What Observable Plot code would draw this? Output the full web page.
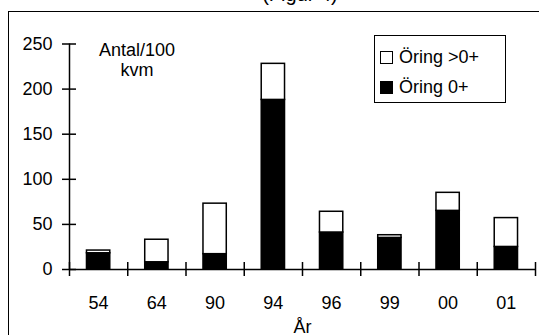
<!DOCTYPE html>
<html>
<head>
<meta charset="utf-8">
<script src="https://cdn.jsdelivr.net/npm/d3@7"></script>
<script src="https://cdn.jsdelivr.net/npm/@observablehq/plot@0.6"></script>
<style>
  html, body { margin: 0; padding: 0; background: #fff; overflow: hidden; }
  body { width: 539px; height: 335px; position: relative; font-family: "Liberation Sans", Arial, sans-serif; }
  #chart { position: absolute; left: 0; top: 0; }
  .border { position: absolute; left: 8px; top: 11px; width: 700px; height: 500px; border-left: 1.5px solid #000; border-top: 1.5px solid #000; }
  .title { position: absolute; left: 190px; width: 220px; top: -16px; text-align: center; font-size: 20px; line-height: 20px; }
  .legend { position: absolute; left: 374px; top: 35px; width: 130px; height: 66px; border: 1px solid #000; background: #fff; font-size: 18px; }
  .item { position: absolute; left: 5px; display: flex; align-items: center; }
  .sw { width: 11px; height: 11px; border: 1.2px solid #000; margin-right: 6px; }
  .note { position: absolute; left: 77px; width: 120px; top: 40px; text-align: center; font-size: 18px; line-height: 20px; }
</style>
</head>
<body>
<div class="title">(Figur 4)</div>
<div id="chart"></div>
<div class="border"></div>
<div class="note">Antal/100<br>kvm</div>
<div class="legend">
  <div class="item" style="top:11px"><div class="sw" style="background:#fff"></div><span id="l1"></span></div>
  <div class="item" style="top:41px"><div class="sw" style="background:#000"></div><span id="l2"></span></div>
</div>
<script>
const categories = ["54", "64", "90", "94", "96", "99", "00", "01"];
const young = [18, 8, 17, 188, 41, 35, 65, 25];     // Öring 0+
const older = [3, 25, 56, 40, 23, 3, 20, 32];       // Öring >0+
const yTicks = [0, 50, 100, 150, 200, 250];
const seriesNames = ["Öring >0+", "Öring 0+"];

document.getElementById("l1").textContent = seriesNames[0];
document.getElementById("l2").textContent = seriesNames[1];

const rows = [];
categories.forEach((c, i) => {
  rows.push({i, series: "young", value: young[i]});
  rows.push({i, series: "older", value: older[i]});
});

const W = 539, H = 335;
const chart = Plot.plot({
  width: W,
  height: H,
  marginLeft: 69,
  marginRight: 4,
  marginTop: 43.5,
  marginBottom: 66,
  style: {fontFamily: "Liberation Sans, Arial, sans-serif", fontSize: "18px", color: "#000", background: "transparent"},
  x: {domain: [0, categories.length], axis: null, label: null},
  y: {domain: [0, 250], axis: null, label: null},
  marks: [
    Plot.rectY(rows, Plot.stackY({
      x1: d => d.i + 0.3,
      x2: d => d.i + 0.7,
      y: "value",
      order: ["young", "older"],
      z: "series",
      fill: d => d.series === "young" ? "#000" : "#fff",
      stroke: "#000",
      strokeWidth: 1.5
    })),
    Plot.ruleY([0], {stroke: "#000", strokeWidth: 1.5}),
    Plot.ruleX([0], {y1: 0, y2: 250, stroke: "#000", strokeWidth: 1.5}),
    Plot.axisY({ticks: yTicks, tickSize: 14, dx: 7, tickFormat: () => "", strokeWidth: 1.5, label: null}),
    Plot.axisY({ticks: yTicks, tickSize: 0, tickPadding: 17, fontSize: 18, label: null}),
    Plot.axisX({ticks: d3.range(0, categories.length + 1), tickSize: 14, dy: -7, tickFormat: () => "", strokeWidth: 1.5, label: null}),
    Plot.axisX({ticks: d3.range(0.5, categories.length), tickSize: 0, tickPadding: 27, fontSize: 18, label: null,
      tickFormat: v => categories[Math.floor(v)]}),
    Plot.text(["År"], {frameAnchor: "bottom", dy: 63, fontSize: 18, lineAnchor: "bottom", fill: "#000"})
  ]
});
document.getElementById("chart").appendChild(chart);
</script>
</body>
</html>
